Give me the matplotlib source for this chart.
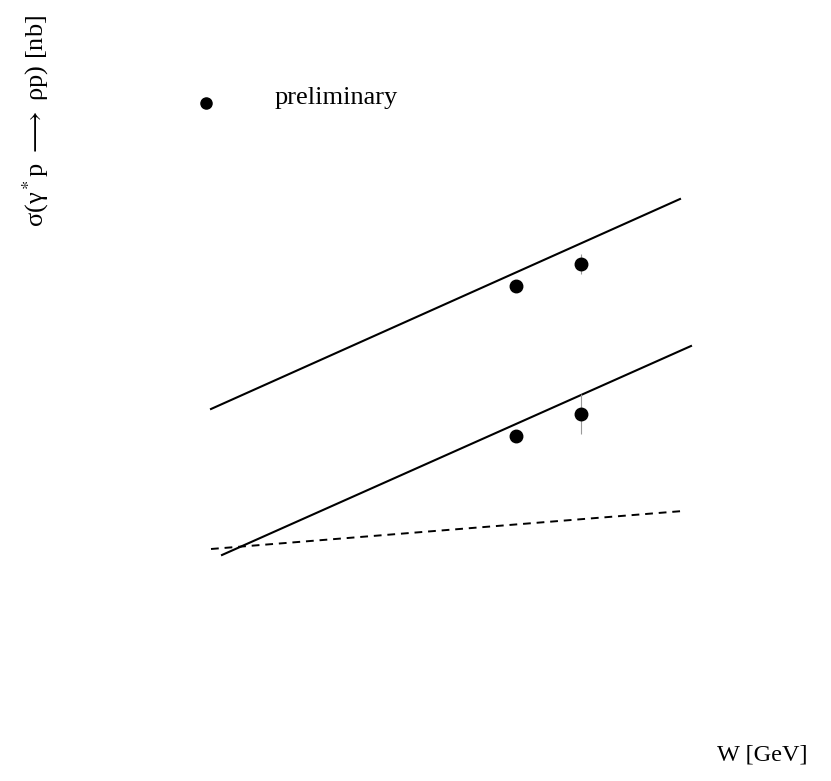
import matplotlib
matplotlib.use("Agg")
import matplotlib.pyplot as plt

plt.rcParams['font.family'] = ['Liberation Serif', 'DejaVu Serif']
plt.rcParams['mathtext.fontset'] = 'stix'

# Energy W [GeV] and cross sections (arbitrary plotting units)
W_measured = [103.2, 116.2]
sigma_high_Q2 = [99.0, 103.4]
sigma_low_Q2 = [69.0, 73.4]
err_low_Q2 = [0.0, 4.0]
err_high_Q2 = [0.0, 2.0]

# model curves: endpoints in W and sigma
W_curve_upper = [42.2, 136.0]
sigma_curve_upper = [74.4, 116.4]
W_curve_lower = [44.4, 138.2]
sigma_curve_lower = [45.2, 87.0]
W_curve_dashed = [42.2, 136.6]
sigma_curve_dashed = [46.4, 54.0]

fig = plt.figure(figsize=(8.31, 7.81), dpi=100)
ax = fig.add_axes([0, 0, 1, 1])
ax.set_xlim(0, 166.2)
ax.set_ylim(0, 156.2)
ax.axis('off')

ax.plot(W_curve_upper, sigma_curve_upper, color='black', lw=1.5)
ax.plot(W_curve_lower, sigma_curve_lower, color='black', lw=1.5)
ax.plot(W_curve_dashed, sigma_curve_dashed, color='black', lw=1.4,
        linestyle=(0, (4, 3)))

ax.errorbar(W_measured, sigma_high_Q2, yerr=err_high_Q2, fmt='o', color='black',
            ms=9, ecolor='#999999', elinewidth=0.8, capsize=0, ls='none')
ax.errorbar(W_measured, sigma_low_Q2, yerr=err_low_Q2, fmt='o', color='black',
            ms=9, ecolor='#999999', elinewidth=0.8, capsize=0, ls='none')

# legend entry
ax.plot([41.2], [135.6], 'o', color='black', ms=8)
ax.text(55.0, 136.6, 'preliminary', fontsize=19, va='center', ha='left')

fig.text(0.043, 0.845, r'σ(γ$^*$p $\longrightarrow$ ρp) [nb]', rotation=90,
         fontsize=19, ha='center', va='center')
fig.text(0.917, 0.033, 'W [GeV]', fontsize=17.5, ha='center', va='center')

fig.savefig('out.png', dpi=100)
